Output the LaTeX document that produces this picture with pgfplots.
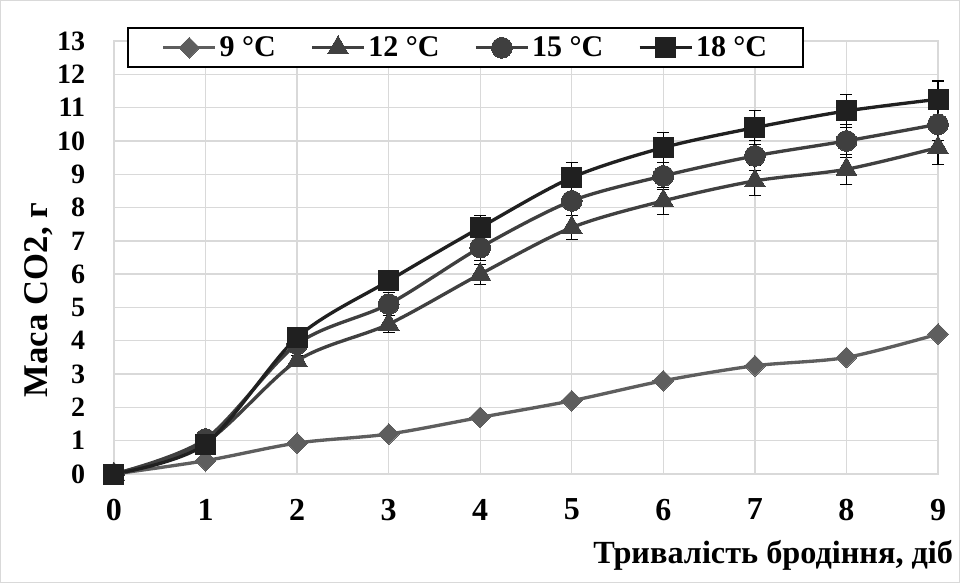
\documentclass[border=0pt]{standalone}
\usepackage{pgfplots}
\pgfplotsset{compat=1.18}
\usepackage{pgfplotstable}
\usepackage{fontspec}
\setmainfont{Liberation Serif}
\definecolor{cA}{HTML}{5E5E5E}
\definecolor{cB}{HTML}{404040}
\definecolor{cC}{HTML}{3F3F3F}
\definecolor{cD}{HTML}{202020}
\definecolor{gridc}{HTML}{D9D9D9}

\pgfplotstableread{
x y e
0 0 0
1 0.40 0.05
2 0.93 0.05
3 1.20 0.05
4 1.70 0.05
5 2.20 0.05
6 2.80 0.05
7 3.25 0.05
8 3.50 0.05
9 4.20 0.10
}\tA
\pgfplotstableread{
x y e
0 0 0
1 0.95 0.10
2 3.40 0.15
3 4.50 0.25
4 6.00 0.30
5 7.40 0.37
6 8.20 0.40
7 8.80 0.45
8 9.15 0.45
9 9.80 0.50
}\tB
\pgfplotstableread{
x y e
0 0 0
1 1.05 0.10
2 3.90 0.15
3 5.10 0.35
4 6.80 0.40
5 8.20 0.45
6 8.95 0.40
7 9.55 0.45
8 10.00 0.50
9 10.50 0.50
}\tC
\pgfplotstableread{
x y e
0 0 0
1 0.90 0.10
2 4.10 0.15
3 5.80 0.20
4 7.40 0.35
5 8.90 0.45
6 9.80 0.45
7 10.40 0.50
8 10.90 0.50
9 11.25 0.55
}\tD

\begin{document}
\begin{tikzpicture}
\path[use as bounding box] (-85.5pt,-81.75pt) rectangle (634.5pt,355.5pt);
\draw[gridc, line width=0.75pt] (-85pt,-81.25pt) rectangle (634pt,355pt);
\begin{axis}[
  at={(0pt,0pt)}, anchor=south west,
  width=618pt, height=324.75pt, scale only axis,
  xmin=0, xmax=9, ymin=0, ymax=13,
  xtick={0,...,9}, ytick={0,...,13},
  major tick length=0pt,
  grid=major,
  major grid style={draw=gridc, line width=1pt},
  axis line style={draw=gridc, line width=1pt},
  /pgf/number format/assume math mode=true,
  yticklabel style={font=\fontsize{21}{21}\selectfont\bfseries, inner sep=0pt, anchor=east, xshift=-21.5pt},
  xticklabel style={font=\fontsize{24}{24}\selectfont\bfseries, inner sep=0pt, anchor=north, yshift=-18.5pt},
  xlabel={Тривалість бродіння, діб},
  ylabel={Маса CO2, г},
  every axis x label/.style={at={(axis description cs:1.024,-0.187)}, anchor=east, font=\fontsize{24.2}{24.2}\selectfont\bfseries},
  every axis y label/.style={at={(axis description cs:-0.091,0.402)}, anchor=center, rotate=90, font=\fontsize{26}{26}\selectfont\bfseries},
  clip=false,
  legend columns=4,
  legend style={at={(axis description cs:0.016,1.032)}, anchor=north west,
    draw=black, line width=1.5pt, fill=white,
    font=\fontsize{22.5}{22.5}\selectfont\bfseries,
    inner xsep=25pt, inner ysep=4.5pt,
    /tikz/every odd column/.append style={column sep=0pt},
    /tikz/every even column/.append style={column sep=24pt}},
  legend image code/.code={\draw[mark repeat=2,mark phase=2] plot coordinates {(0pt,0pt) (19.5pt,0pt) (39pt,0pt)};},
  error bars/error bar style={draw=black, line width=0.8pt, solid},
  error bars/error mark options={draw=black, line width=0.8pt, mark size=4.5pt, rotate=90},
]
\addplot[color=cA, line width=2.5pt, smooth, mark=square*, mark size=5.5pt, mark options={rotate=45, fill=cA, draw=cA, line width=0pt},
  error bars/.cd, y dir=both, y explicit] table[x=x, y=y, y error=e] {\tA};
\addlegendentry{9 °C}
\addplot[color=cB, line width=2.5pt, smooth, mark=triangle*, mark size=9pt, mark options={fill=cB, draw=cB, line width=0pt},
  error bars/.cd, y dir=both, y explicit] table[x=x, y=y, y error=e] {\tB};
\addlegendentry{12 °C}
\addplot[color=cC, line width=2.5pt, smooth, mark=*, mark size=7.8pt, mark options={fill=cC, draw=cC, line width=0pt},
  error bars/.cd, y dir=both, y explicit] table[x=x, y=y, y error=e] {\tC};
\addlegendentry{15 °C}
\addplot[color=cD, line width=2.5pt, smooth, mark=square*, mark size=7.5pt, mark options={fill=cD, draw=cD, line width=0pt},
  error bars/.cd, y dir=both, y explicit] table[x=x, y=y, y error=e] {\tD};
\addlegendentry{18 °C}
\end{axis}
\end{tikzpicture}
\end{document}
